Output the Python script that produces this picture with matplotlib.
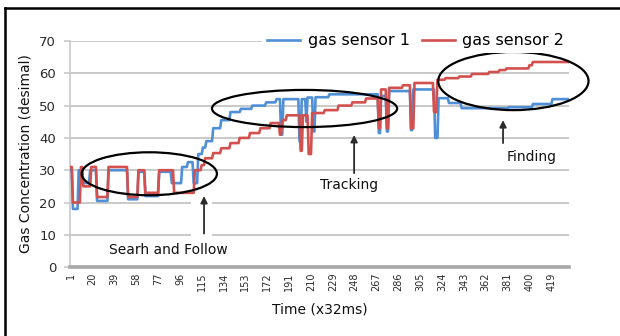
"""Gas sensor readings over time with annotated search / tracking / finding phases."""

import numpy as np
import matplotlib
matplotlib.use('Agg')
import matplotlib.pyplot as plt
from matplotlib.patches import Ellipse, Rectangle
from matplotlib.lines import Line2D

# number of samples (x axis is the sample index, 1 sample = 32 ms)
N_SAMPLES = 434
X_TICKS = list(range(1, 420, 19))

# readings are step-like, so they are kept as (start index, level) pairs
SENSOR1_STARTS = [1, 3, 8, 12, 18, 24, 34, 51, 60, 66, 78, 89, 98, 103, 108,
                  112, 116, 119, 125, 132, 140, 149, 159, 171, 180, 184, 186,
                  200, 202, 206, 207, 212, 214, 226, 269, 271, 276, 278, 297,
                  299, 318, 321, 330, 341, 382, 403, 420]
SENSOR1_LEVELS = [30, 18, 30, 26, 30, 20.5, 30, 21, 29.5, 22, 29.5, 26, 31,
                  32.5, 26, 35, 37, 39, 43, 45.5, 48, 49, 50, 51, 52, 41, 52,
                  39, 52, 45, 52.5, 42, 52.6, 53.5, 41.5, 53, 42, 54.5, 42.4,
                  55, 40, 52.3, 50.8, 49.2, 49.5, 50.5, 52]

SENSOR2_STARTS = [1, 3, 10, 12, 19, 24, 34, 51, 60, 66, 78, 91, 109, 115,
                  118, 125, 132, 140, 148, 157, 166, 175, 183, 185, 189, 201,
                  203, 208, 211, 222, 234, 246, 258, 269, 271, 276, 278, 290,
                  297, 300, 317, 320, 327, 339, 350, 365, 374, 380, 400, 403]
SENSOR2_LEVELS = [31, 20, 31, 25, 31, 21.7, 31, 21.7, 30, 23, 30, 23, 30,
                  31.6, 33.7, 35.3, 36.8, 38.4, 40, 41.5, 43, 44.6, 41, 45.5,
                  47, 36, 47, 35, 47.7, 48.6, 50, 51, 52.2, 43, 55, 43, 55.5,
                  56.3, 43, 57, 48, 58, 58.5, 59, 59.8, 60.4, 61, 61.5, 62.5,
                  63.5]

BLUE = '#4f8fd6'
RED = '#d2504d'
GRID = '#c9c9c9'
TEXT = '#2b2b2b'


def expand_steps(starts, levels, n):
    """Turn (start, level) pairs into one value per sample."""
    edges = list(starts) + [n + 1]
    return np.repeat(levels, np.diff(edges))


def annotate_phase(ax, label, x, y_from, y_to, text_xy):
    """Arrow pointing up at a circled region plus its label."""
    ax.annotate('', xy=(x, y_to), xytext=(x, y_from),
                arrowprops=dict(arrowstyle='-|>', color=TEXT, lw=1.3,
                                mutation_scale=10, shrinkA=0, shrinkB=0),
                zorder=6)
    ax.text(text_xy[0], text_xy[1], label, ha='center', va='center',
            fontsize=10, color='#111111', zorder=6)


fig = plt.figure(figsize=(6.2, 3.36), dpi=100)
ax = fig.add_axes([0.113, 0.205, 0.805, 0.673])

x = np.arange(1, N_SAMPLES + 1)
s1 = expand_steps(SENSOR1_STARTS, SENSOR1_LEVELS, N_SAMPLES)
s2 = expand_steps(SENSOR2_STARTS, SENSOR2_LEVELS, N_SAMPLES)

ax.plot(x, s1, color=BLUE, lw=1.9, label='gas sensor 1', zorder=3)
ax.plot(x, s2, color=RED, lw=1.9, label='gas sensor 2', zorder=4)

ax.set_xlim(0.5, N_SAMPLES + 0.5)
ax.set_ylim(0, 70)
ax.set_yticks(range(0, 71, 10))
ax.set_xticks(X_TICKS)
ax.set_xticklabels([str(t) for t in X_TICKS], rotation=90, fontsize=7,
                   color=TEXT)
ax.tick_params(axis='x', length=0, pad=4)
ax.tick_params(axis='y', length=4, color=GRID, width=1.2, labelsize=9.5,
               labelcolor=TEXT, pad=6)
ax.grid(axis='y', color=GRID, lw=1.4, zorder=0)
ax.set_axisbelow(True)

for side in ('top', 'right'):
    ax.spines[side].set_visible(False)
ax.spines['left'].set_color(GRID)
ax.spines['left'].set_linewidth(1.2)
ax.spines['bottom'].set_color('#a8a8a8')
ax.spines['bottom'].set_linewidth(2.6)

ax.set_xlabel('Time (x32ms)', fontsize=10, color='#111111', labelpad=8)
ax.set_ylabel('Gas Concentration (desimal)', fontsize=10, color='#111111',
              labelpad=5)

leg = ax.legend(loc='center right', bbox_to_anchor=(1.0, 1.0), ncol=2,
                frameon=True, fontsize=11.5, handlelength=2.05,
                handletextpad=0.5, columnspacing=0.75, borderaxespad=0,
                borderpad=0.3)
leg.get_frame().set_facecolor('white')
leg.get_frame().set_edgecolor('none')
leg.get_frame().set_alpha(1)

# circled regions
for cx, cy, w, h in [(69.4, 28.9, 117.6, 13.3),
                     (204.4, 49.1, 161.0, 11.5),
                     (386.0, 57.6, 130.7, 18.0)]:
    ax.add_patch(Ellipse((cx, cy), w, h, fill=False, ec='black', lw=1.6,
                         zorder=5, clip_on=False))

# white box behind the first arrow breaks the grid lines like the original
ax.add_patch(Rectangle((106, 9.6), 18, 11.3, fc='white', ec='none', zorder=1))

annotate_phase(ax, 'Searh and Follow', 117, 10.4, 22, (86.4, 5.3))
annotate_phase(ax, 'Tracking', 247.5, 29.1, 40.9, (243, 25.4))
annotate_phase(ax, 'Finding', 377, 38.4, 45.5, (401.7, 34))

# page border around the chart
fig.add_artist(Line2D([5 / 620, 1], [1 - 8 / 336] * 2, color='black', lw=1.8))
fig.add_artist(Line2D([5 / 620] * 2, [0, 1 - 8 / 336], color='black', lw=1.8))

fig.savefig('out.png', dpi=100)
plt.close(fig)
